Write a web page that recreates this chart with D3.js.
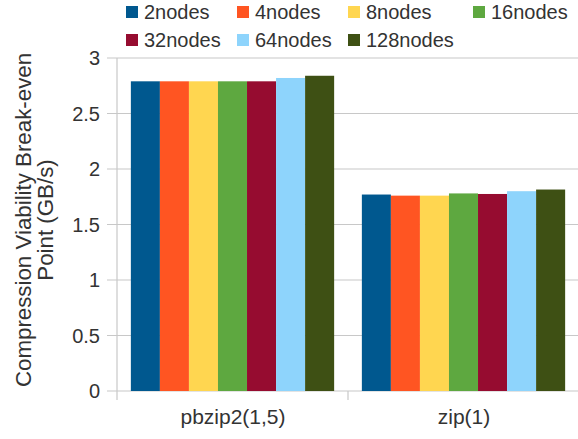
<!DOCTYPE html>
<html>
<head>
<meta charset="utf-8">
<script src="https://cdn.jsdelivr.net/npm/d3@7"></script>
<style>
  body { margin: 0; background: #fff; }
  svg text { font-family: "Liberation Sans", Arial, sans-serif; fill: #333; }
</style>
</head>
<body>
<div id="chart"></div>
<script>
// Compression viability break-even point, grouped bars
const categories = ['pbzip2(1,5)', 'zip(1)'];
const seriesNames = ['2nodes', '4nodes', '8nodes', '16nodes', '32nodes', '64nodes', '128nodes'];
const seriesColors = ['#00588f', '#ff5522', '#ffd650', '#5ea840', '#960c30', '#8ed4fc', '#3e5014'];
const pbzip2Values = [2.79, 2.79, 2.79, 2.79, 2.79, 2.82, 2.84];
const zipValues    = [1.77, 1.76, 1.76, 1.78, 1.775, 1.80, 1.815];
const yTickValues  = [0, 0.5, 1, 1.5, 2, 2.5, 3];

const values = [pbzip2Values, zipValues];

const W = 578, H = 439;
const margin = { top: 58, right: 0, bottom: 48, left: 117 };
const innerW = W - margin.left - margin.right;
const innerH = H - margin.top - margin.bottom;

const svg = d3.select('#chart').append('svg')
  .attr('width', W).attr('height', H);

const g = svg.append('g').attr('transform', `translate(${margin.left},${margin.top})`);

const x0 = d3.scaleBand().domain(categories).range([0, 462]).paddingInner(0.12).paddingOuter(0.06);
const x1 = d3.scaleBand().domain(seriesNames).range([0, x0.bandwidth()]);
const y  = d3.scaleLinear().domain([0, 3]).range([innerH, 0]);

// ── Grid ────────────────────────────────────────────────────────────────
g.append('g').selectAll('line').data(yTickValues).join('line')
  .attr('x1', -10).attr('x2', 462)
  .attr('y1', d => y(d)).attr('y2', d => y(d))
  .attr('stroke', '#c8c8c8').attr('stroke-width', 1.2);

// ── Bars ────────────────────────────────────────────────────────────────
const groups = g.append('g').selectAll('g').data(categories).join('g')
  .attr('transform', d => `translate(${x0(d)},0)`);

groups.selectAll('rect')
  .data((c, i) => seriesNames.map((s, j) => ({ s, v: values[i][j], c: seriesColors[j] })))
  .join('rect')
  .attr('x', d => x1(d.s))
  .attr('width', x1.bandwidth())
  .attr('y', d => y(d.v))
  .attr('height', d => innerH - y(d.v))
  .attr('fill', d => d.c);

// ── Axes ────────────────────────────────────────────────────────────────
g.append('line')
  .attr('x1', 0).attr('x2', 0).attr('y1', 0).attr('y2', innerH + 9)
  .attr('stroke', '#c8c8c8').attr('stroke-width', 1.2);

// category boundary ticks
g.append('line')
  .attr('x1', 231).attr('x2', 231).attr('y1', innerH).attr('y2', innerH + 9)
  .attr('stroke', '#c8c8c8').attr('stroke-width', 1.2);

g.append('g').selectAll('text').data(yTickValues).join('text')
  .attr('x', -17).attr('y', d => y(d)).attr('dy', '0.35em')
  .attr('text-anchor', 'end').attr('font-size', 20)
  .text(d => d3.format('')(d));

g.append('g').selectAll('text').data(categories).join('text')
  .attr('x', (d, i) => 116 + i * 231).attr('y', innerH + 33)
  .attr('text-anchor', 'middle').attr('font-size', 21)
  .text(d => d);

// y axis title (two lines)
const yTitle = svg.append('text')
  .attr('transform', `translate(0,220) rotate(-90)`)
  .attr('text-anchor', 'middle').attr('font-size', 22.3);
yTitle.append('tspan').attr('x', 0).attr('y', 31).text('Compression Viability Break-even');
yTitle.append('tspan').attr('x', 0).attr('y', 53).text('Point (GB/s)');

// ── Legend ──────────────────────────────────────────────────────────────
const legendCols = [126, 237, 348, 473];
const legend = svg.append('g').selectAll('g').data(seriesNames).join('g')
  .attr('transform', (d, i) => `translate(${legendCols[i % 4]},${i < 4 ? 12 : 40})`);

legend.append('rect')
  .attr('x', 0).attr('y', -6).attr('width', 12).attr('height', 12)
  .attr('fill', (d, i) => seriesColors[i]);

legend.append('text')
  .attr('x', 18).attr('y', 0).attr('dy', '0.35em')
  .attr('font-size', 20)
  .text(d => d);
</script>
</body>
</html>
